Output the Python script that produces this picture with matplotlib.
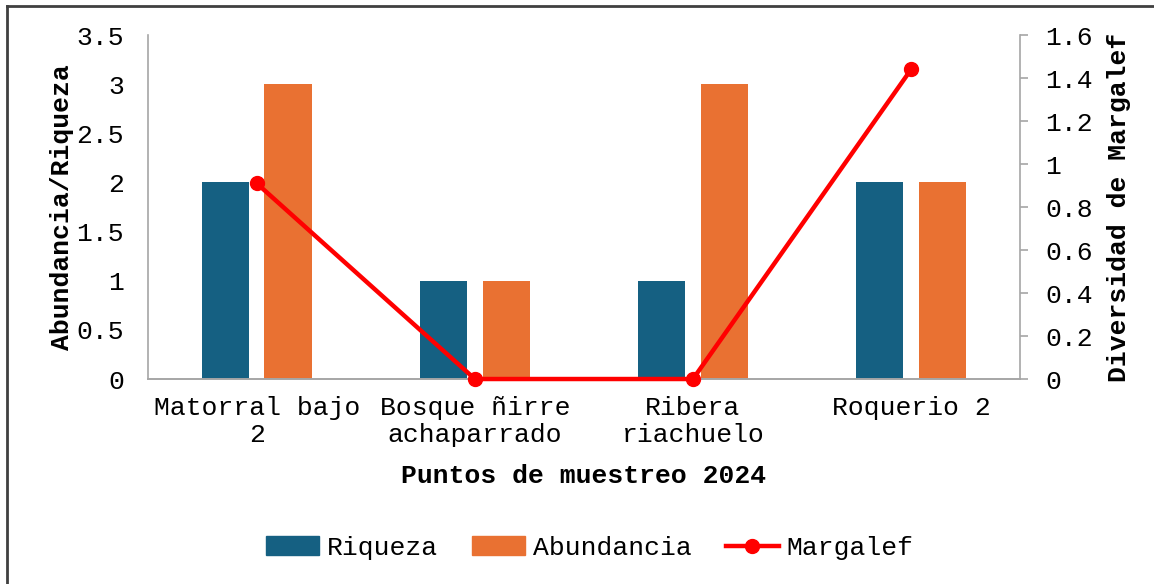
import numpy as np
import matplotlib.pyplot as plt
from matplotlib.lines import Line2D
from matplotlib.patches import Patch

# Datos
puntos = ['Matorral bajo\n2', 'Bosque ñirre\nachaparrado', 'Ribera\nriachuelo', 'Roquerio 2']
riqueza = [2, 1, 1, 2]
abundancia = [3, 1, 3, 2]
margalef = [0.91, 0, 0, 1.44]

plt.rcParams['font.family'] = ['Liberation Mono', 'DejaVu Sans Mono']
fs = 19

fig = plt.figure(figsize=(11.54, 5.84), dpi=100)
ax = fig.add_axes([0.128, 0.351, 0.756, 0.589])
ax2 = ax.twinx()

x = np.arange(len(puntos))
ax.bar(x - 0.143, riqueza, width=0.216, color='#156082', label='Riqueza')
ax.bar(x + 0.143, abundancia, width=0.216, color='#E97132', label='Abundancia')
ax2.plot(x, margalef, color='#FF0000', lw=3.2, marker='o', ms=10, label='Margalef',
         clip_on=False, zorder=5)

ax.set_xlim(-0.5, 3.5)
ax.set_ylim(0, 3.5)
ax.set_yticks(np.arange(0, 3.6, 0.5))
ax.set_yticklabels(['0', '0.5', '1', '1.5', '2', '2.5', '3', '3.5'])
ax2.set_ylim(0, 1.6)
ax2.set_yticks(np.arange(0, 1.61, 0.2))
ax2.set_yticklabels(['0', '0.2', '0.4', '0.6', '0.8', '1', '1.2', '1.4', '1.6'])

ax.set_xticks(x)
ax.set_xticklabels(puntos, fontsize=fs, linespacing=1.2)
ax.tick_params(axis='x', length=0, pad=12)
ax.tick_params(axis='y', length=0, pad=17, labelsize=fs)
ax2.tick_params(axis='y', length=6, width=1.2, color='#A6A6A6', pad=12, labelsize=fs)

for a in (ax, ax2):
    a.spines['top'].set_visible(False)
    for s in ('left', 'right', 'bottom'):
        a.spines[s].set_color('#A6A6A6')
        a.spines[s].set_linewidth(1.2)
ax.spines['right'].set_visible(False)
ax2.spines['left'].set_visible(False)

ax.set_xlabel('Puntos de muestreo 2024', fontsize=fs, fontweight='bold', labelpad=12)
ax.set_ylabel('Abundancia/Riqueza', fontsize=fs, fontweight='bold', labelpad=2)
ax2.set_ylabel('Diversidad de Margalef', fontsize=fs, fontweight='bold', labelpad=10)

handles = [Patch(color='#156082', label='Riqueza'),
           Patch(color='#E97132', label='Abundancia'),
           Line2D([], [], color='#FF0000', lw=3.2, marker='o', ms=10, label='Margalef')]
fig.legend(handles=handles, loc='center', bbox_to_anchor=(0.511, 0.062), ncol=3,
           frameon=False, fontsize=fs, handlelength=2.0, handletextpad=0.3,
           columnspacing=1.3)

# borde del grafico
fig.add_artist(Line2D([7 / 1154, 7 / 1154], [0, 1 - 6 / 584], transform=fig.transFigure,
                      color='#404040', lw=2))
fig.add_artist(Line2D([7 / 1154, 1], [1 - 6 / 584, 1 - 6 / 584], transform=fig.transFigure,
                      color='#404040', lw=2))

fig.savefig('out.png', dpi=100)
